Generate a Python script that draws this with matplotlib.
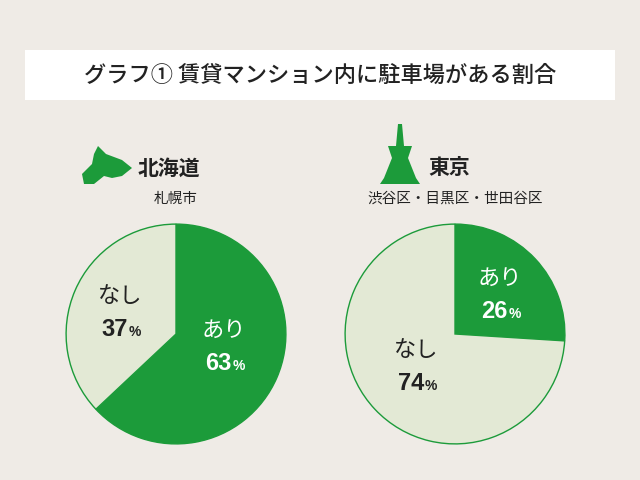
import matplotlib
matplotlib.use("Agg")
import matplotlib.pyplot as plt
from matplotlib.patches import Rectangle, Polygon

title = "グラフ① 賃貸マンション内に駐車場がある割合"
regions = ["北海道", "東京"]
subtitles = ["札幌市", "渋谷区・目黒区・世田谷区"]
labels = ["あり", "なし"]
values_left = [63, 37]
values_right = [26, 74]

plt.rcParams["font.family"] = "Noto Sans CJK JP"
W, H = 640, 480
fig = plt.figure(figsize=(6.4, 4.8), dpi=100)
fig.patch.set_facecolor("#efebe6")
bg = fig.add_axes([0, 0, 1, 1])
bg.set_xlim(0, W); bg.set_ylim(H, 0); bg.axis("off")
bg.add_patch(Rectangle((25, 50), 590, 50, facecolor="white", edgecolor="none"))
bg.text(320, 75, title, ha="center", va="center", fontsize=16, fontweight="medium", color="#222")

green = "#1c9b3a"
light = "#e3e9d5"

bg.text(138, 168, regions[0], ha="left", va="center", fontsize=15, fontweight="bold", color="#222")
bg.text(176, 199, subtitles[0], ha="center", va="center", fontsize=10.5, color="#222")
bg.text(428, 168, regions[1], ha="left", va="center", fontsize=15, fontweight="bold", color="#222")
bg.text(455, 199, subtitles[1], ha="center", va="center", fontsize=10.5, color="#222")
bg.add_patch(Polygon([(98, 146), (106, 154), (122, 160), (132, 168), (122, 176), (112, 178), (104, 176), (94, 184), (84, 184), (82, 174), (92, 164), (94, 154)], facecolor=green))
bg.add_patch(Polygon([(398, 124), (402, 124), (404, 146), (412, 146), (408, 158), (416, 178), (420, 184), (380, 184), (384, 178), (392, 158), (388, 146), (396, 146)], facecolor=green))

def pie(cx, vals, label_pos):
    r = 111
    ax = fig.add_axes([(cx - r) / W, 1 - (334 + r) / H, 2 * r / W, 2 * r / H])
    ax.pie(vals, colors=[green, light], startangle=90, counterclock=False,
           wedgeprops=dict(edgecolor=green, linewidth=1))
    ax.set_xlim(-1.01, 1.01); ax.set_ylim(-1.01, 1.01)
    ax.set_aspect("equal")
    for (x, y), lab, v, c in zip(label_pos, labels, vals, ["white", "#222"]):
        fig.text(x / W, 1 - y / H, lab, ha="center", va="center", fontsize=16, color=c)
        fig.text((x + 8) / W, 1 - (y + 34) / H, f"{v}", ha="right", va="center", fontsize=17,
                 fontweight="bold", color=c, family="Liberation Sans")
        fig.text((x + 9) / W, 1 - (y + 36) / H, "%", ha="left", va="center", fontsize=10,
                 fontweight="bold", color=c, family="Liberation Sans")

pie(176, values_left, [(224, 330), (120, 296)])
pie(455, values_right, [(500, 278), (416, 350)])

fig.savefig("out.png", dpi=100, facecolor=fig.get_facecolor())
